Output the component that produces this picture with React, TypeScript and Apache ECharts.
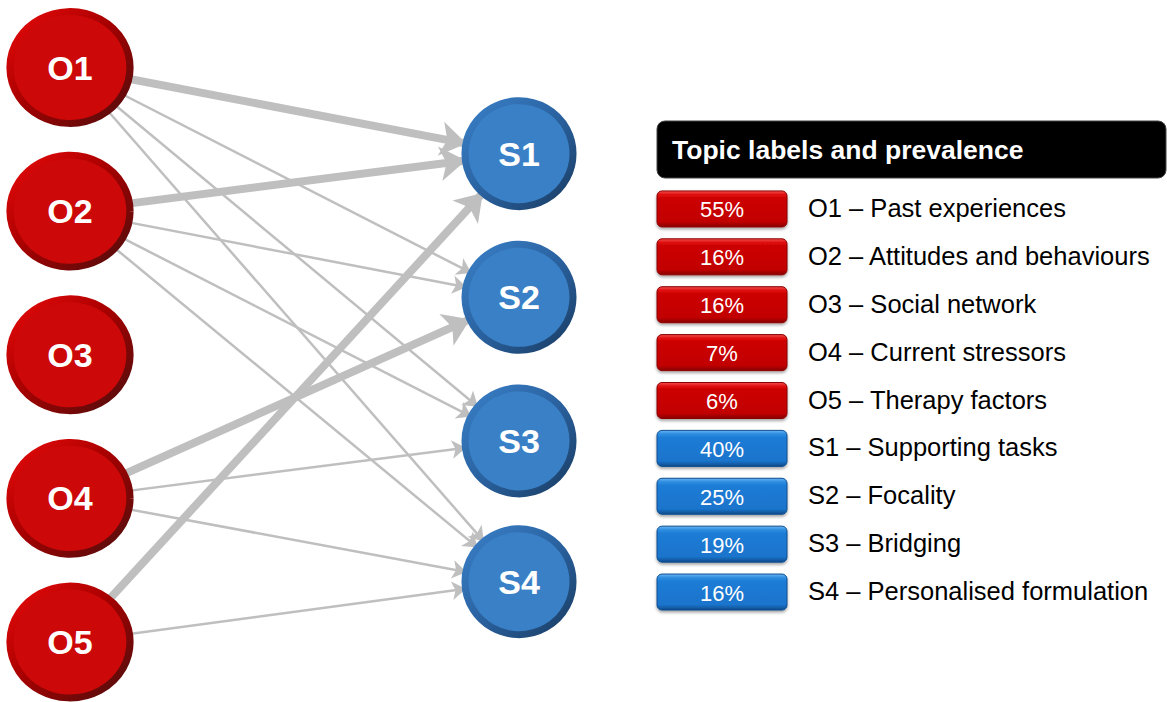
import React, { useEffect, useRef } from "react";
import * as echarts from "echarts";

// ---- Network data ----
const outcomeNodes = ["O1", "O2", "O3", "O4", "O5"];
const outcomeRows = [0, 1, 2, 3, 4];
const strategyNodes = ["S1", "S2", "S3", "S4"];
const strategyRows = [0.6, 1.6, 2.6, 3.58];

const linkSources = ["O1", "O1", "O1", "O1", "O2", "O2", "O2", "O2", "O4", "O4", "O4", "O5", "O5"];
const linkTargets = ["S1", "S2", "S3", "S4", "S1", "S2", "S3", "S4", "S2", "S3", "S4", "S1", "S4"];
const linkStrong = [1, 0, 0, 0, 1, 0, 0, 0, 1, 0, 0, 1, 0];

// ---- Legend table data ----
const topicCodes = ["O1", "O2", "O3", "O4", "O5", "S1", "S2", "S3", "S4"];
const topicNames = [
  "Past experiences",
  "Attitudes and behaviours",
  "Social network",
  "Current stressors",
  "Therapy factors",
  "Supporting tasks",
  "Focality",
  "Bridging",
  "Personalised formulation",
];
const prevalence = [55, 16, 16, 7, 6, 40, 25, 19, 16];
const legendTitle = "Topic labels and prevalence";

const FONT = 'Arial, "Liberation Sans", sans-serif';

export default function App() {
  const ref = useRef<HTMLDivElement>(null);

  useEffect(() => {
    if (!ref.current) return;
    const chart = echarts.init(ref.current, undefined, { renderer: "svg" });

    const redStyle = {
      color: "#CC0808",
      borderWidth: 7,
      borderColor: new echarts.graphic.LinearGradient(0, 0, 1, 1, [
        { offset: 0, color: "#EA0A0A" },
        { offset: 0.45, color: "#A80000" },
        { offset: 1, color: "#4E0E0E" },
      ]),
    };
    const blueStyle = {
      color: "#3A80C6",
      borderWidth: 7,
      borderColor: new echarts.graphic.LinearGradient(0, 0, 1, 1, [
        { offset: 0, color: "#3A80C8" },
        { offset: 0.5, color: "#2A62A0" },
        { offset: 1, color: "#1A3C62" },
      ]),
    };

    const nodes = [
      ...outcomeNodes.map((n, i) => ({
        name: n,
        value: [0, outcomeRows[i]],
        symbolSize: [120, 112],
        itemStyle: redStyle,
      })),
      ...strategyNodes.map((n, i) => ({
        name: n,
        value: [1, strategyRows[i]],
        symbolSize: [108, 106],
        itemStyle: blueStyle,
      })),
    ];

    const links = linkSources.map((s, i) => ({
      source: s,
      target: linkTargets[i],
      symbolSize: linkStrong[i] ? [22, 26] : [11, 14],
      lineStyle: { width: linkStrong[i] ? 8 : 2.5 },
    }));

    const redGrad = new echarts.graphic.LinearGradient(0, 0, 0, 1, [
      { offset: 0, color: "#F25050" },
      { offset: 0.1, color: "#E01010" },
      { offset: 0.2, color: "#CC0000" },
      { offset: 0.85, color: "#C20000" },
      { offset: 1, color: "#880000" },
    ]);
    const blueGrad = new echarts.graphic.LinearGradient(0, 0, 0, 1, [
      { offset: 0, color: "#6AB4F5" },
      { offset: 0.1, color: "#2E8EE0" },
      { offset: 0.2, color: "#1C7CD6" },
      { offset: 0.85, color: "#1A74CC" },
      { offset: 1, color: "#0E4A8A" },
    ]);

    chart.setOption({
      animation: false,
      grid: [
        { left: 70, top: 67.5, width: 449, height: 574.5 },
        { left: 657, top: 185, width: 510, height: 431 },
      ],
      xAxis: [
        { type: "value", min: 0, max: 1, show: false, gridIndex: 0 },
        { type: "value", min: 0, max: 1, show: false, gridIndex: 1 },
      ],
      yAxis: [
        { type: "value", min: 0, max: 4, inverse: true, show: false, gridIndex: 0 },
        { type: "category", data: topicCodes, inverse: true, show: false, gridIndex: 1 },
      ],
      graphic: [
        {
          type: "rect",
          shape: { x: 657, y: 121, width: 509, height: 57, r: 8 },
          style: { fill: "#000", stroke: "#444", lineWidth: 1 },
          silent: true,
        },
        {
          type: "text",
          x: 672,
          y: 150,
          style: {
            text: legendTitle,
            fill: "#fff",
            font: `bold 26.5px ${FONT}`,
            verticalAlign: "middle",
            align: "left",
          },
          silent: true,
        },
      ],
      series: [
        {
          type: "graph",
          coordinateSystem: "cartesian2d",
          xAxisIndex: 0,
          yAxisIndex: 0,
          silent: true,
          data: nodes,
          links,
          edgeSymbol: ["none", "arrow"],
          lineStyle: { color: "#BFBFBF", opacity: 1, curveness: 0 },
          label: {
            show: true,
            position: "inside",
            formatter: "{b}",
            color: "#fff",
            fontSize: 34,
            fontWeight: "bold",
            fontFamily: FONT,
          },
        },
        {
          type: "custom",
          xAxisIndex: 1,
          yAxisIndex: 1,
          clip: false,
          silent: true,
          data: topicCodes.map((_, i) => [0, i]),
          renderItem: (params: any, api: any) => {
            const i = params.dataIndex;
            const p = api.coord([0, i]);
            const isO = topicCodes[i].charAt(0) === "O";
            return {
              type: "group",
              children: [
                {
                  type: "rect",
                  shape: { x: p[0], y: p[1] - 18, width: 130, height: 36, r: 5 },
                  style: {
                    fill: isO ? redGrad : blueGrad,
                    stroke: isO ? "#8A0000" : "#0F4F8F",
                    lineWidth: 1,
                    shadowBlur: 3,
                    shadowOffsetY: 2,
                    shadowColor: "rgba(0,0,0,0.35)",
                  },
                },
                {
                  type: "text",
                  style: {
                    text: prevalence[i] + "%",
                    x: p[0] + 65,
                    y: p[1] + 1,
                    align: "center",
                    verticalAlign: "middle",
                    fill: "#fff",
                    font: `22px ${FONT}`,
                  },
                },
                {
                  type: "text",
                  style: {
                    text: `${topicCodes[i]} – ${topicNames[i]}`,
                    x: p[0] + 151,
                    y: p[1] - 1,
                    align: "left",
                    verticalAlign: "middle",
                    fill: "#000",
                    font: `25.5px ${FONT}`,
                  },
                },
              ],
            };
          },
        },
      ],
    });

    return () => chart.dispose();
  }, []);

  return (
    <div
      ref={ref}
      style={{ position: "fixed", left: 0, top: 0, width: 1167, height: 702, background: "#fff" }}
    />
  );
}
